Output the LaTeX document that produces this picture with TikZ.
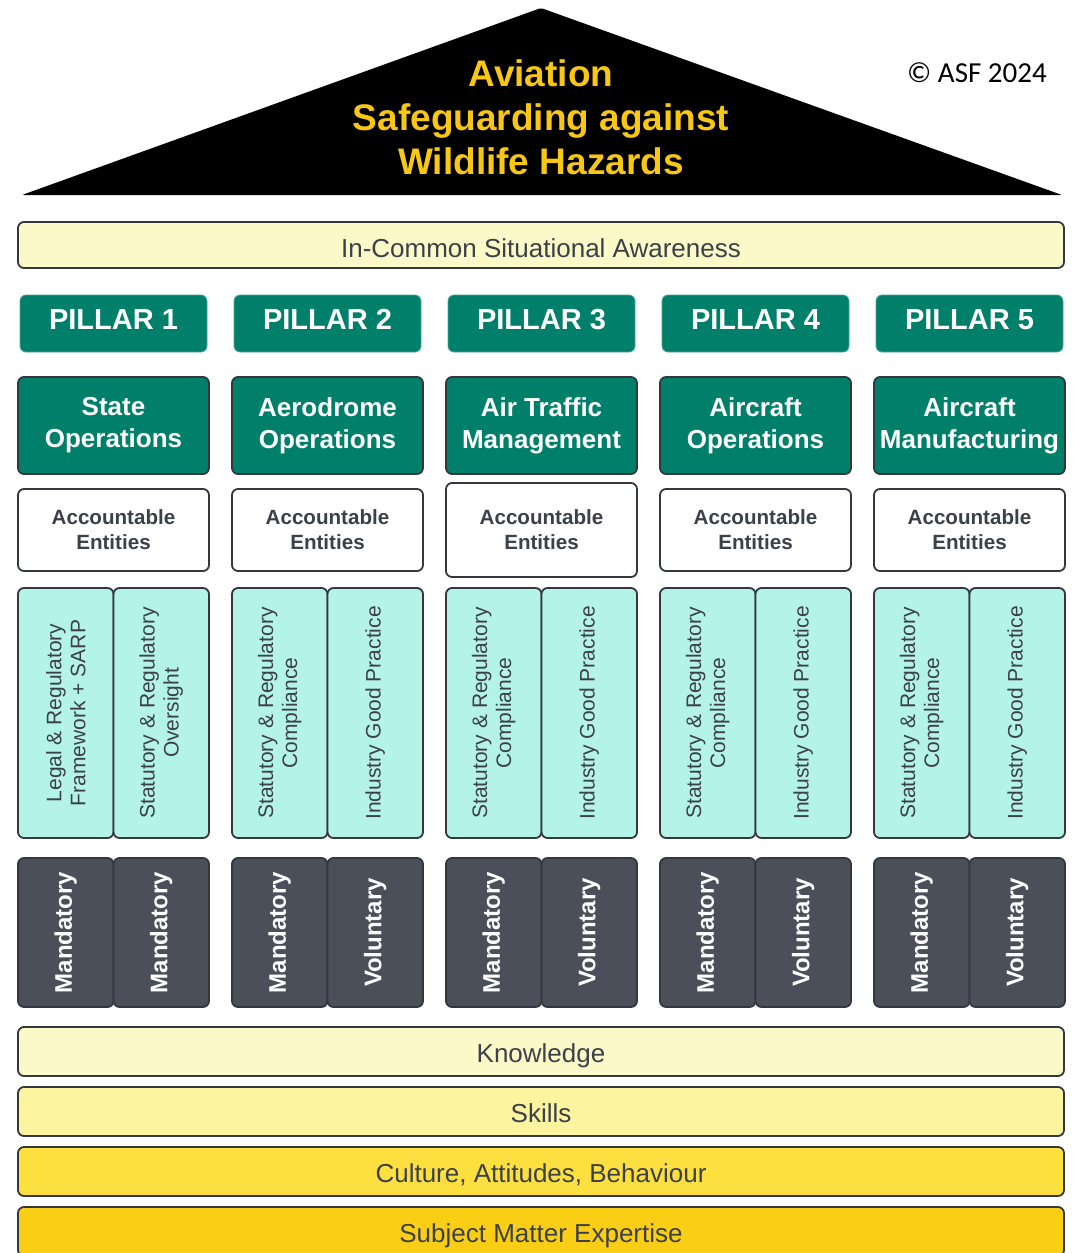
\documentclass[tikz,border=0pt]{standalone}
\usepackage{fontspec}
\setmainfont{Liberation Sans}
\newfontfamily\copyfont{Carlito}
\usetikzlibrary{positioning}
\usepackage{xcolor}

\definecolor{roofgold}{RGB}{248,199,22}
\definecolor{edge}{RGB}{52,55,62}
\definecolor{ink}{RGB}{60,64,72}
\definecolor{pillarteal}{RGB}{0,128,106}
\definecolor{lawcyan}{RGB}{180,243,232}
\definecolor{slate}{RGB}{74,79,90}
\definecolor{kcream}{RGB}{252,249,200}
\definecolor{kpale}{RGB}{253,244,160}
\definecolor{kyellow}{RGB}{253,224,64}
\definecolor{kgold}{RGB}{251,206,22}

\begin{document}
\begin{tikzpicture}[x=0.5pt,y=-0.5pt,
    box/.style={draw=edge, line width=0.9pt, rounded corners=3pt, inner sep=0pt, align=center},
    band/.style={box, minimum width=523pt, text=ink, text height=11pt, text depth=0pt,
        font=\fontsize{13}{15}\selectfont},
    pillarhead/.style={box, draw=pillarteal!70, line width=0.4pt, fill=pillarteal, text=white,
        minimum width=93.5pt, minimum height=28.5pt, text depth=4pt,
        font=\bfseries\fontsize{14.5}{17}\selectfont},
    opsbox/.style={box, fill=pillarteal, text=white, minimum width=95.5pt, minimum height=48.5pt,
        font=\bfseries\fontsize{13}{16}\selectfont},
    accbox/.style={box, fill=white, text=ink, minimum width=95.5pt,
        font=\bfseries\fontsize{10.3}{12.5}\selectfont},
    lawbox/.style={box, rotate=90, fill=lawcyan, text=ink, minimum width=125pt, minimum height=47.75pt,
        font=\fontsize{10.5}{12}\selectfont},
    dutybox/.style={box, rotate=90, fill=slate, text=white, minimum width=74.5pt, minimum height=47.75pt,
        font=\bfseries\fontsize{12}{14}\selectfont}]
    \useasboundingbox (0,0) rectangle (1074,1253);

    % roof
    \fill[black, rounded corners=1pt] (541,8) -- (1062,195) -- (22,195) -- cycle;
    \node[align=center, text=roofgold, font=\bfseries\fontsize{18.5}{22}\selectfont] (title) at (541,117)
        {Aviation\\Safeguarding against\\Wildlife Hazards};
    \node[font=\copyfont\fontsize{14.5}{17}\selectfont] (copy) at (977,73) {\textcopyright{} ASF 2024};

    \node[band, fill=kcream, minimum height=23pt, text height=12.5pt] (aware) at (541,245)
        {In-Common Situational Awareness};

    % pillars
    \foreach \i/\opa/\opb/\acch in {1/State/Operations/41, 2/Aerodrome/Operations/41,
            3/Air Traffic/Management/47, 4/Aircraft/Operations/41, 5/Aircraft/Manufacturing/41} {
        \pgfmathsetmacro\cx{113.5+214*(\i-1)}
        \node[pillarhead] (p\i) at (\cx,323.5) {PILLAR \i};
        \node[opsbox] (o\i) at (\cx,425.5) {\opa\\\opb};
        \node[accbox, minimum height=\acch pt] (a\i) at (\cx,530) {Accountable\\Entities};
    }

    \node[lawbox] (l1) at (65.75,713) {Legal \& Regulatory\\Framework + SARP};
    \node[lawbox] (r1) at (161.25,713) {Statutory \& Regulatory\\Oversight};
    \node[dutybox] (lm1) at (65.75,932.5) {Mandatory};
    \node[dutybox] (rm1) at (161.25,932.5) {Mandatory};
    \foreach \i in {2,...,5} {
        \pgfmathsetmacro\lx{65.75+214*(\i-1)}
        \pgfmathsetmacro\rx{161.25+214*(\i-1)}
        \node[lawbox] (l\i) at (\lx,713) {Statutory \& Regulatory\\Compliance};
        \node[lawbox] (r\i) at (\rx,713) {Industry Good Practice};
        \node[dutybox] (lm\i) at (\lx,932.5) {Mandatory};
        \node[dutybox] (rm\i) at (\rx,932.5) {Voluntary};
    }

    % foundations
    \node[band, fill=kcream, minimum height=24.5pt] (know) at (541,1051.5) {Knowledge};
    \node[band, fill=kpale, minimum height=24.5pt, below=4.6pt of know] (skill) {Skills};
    \node[band, fill=kyellow, minimum height=24.5pt, below=4.6pt of skill] (cab) {Culture, Attitudes, Behaviour};
    \node[band, fill=kgold, minimum height=24.5pt, below=4.6pt of cab] (sme) {Subject Matter Expertise};
\end{tikzpicture}
\end{document}
